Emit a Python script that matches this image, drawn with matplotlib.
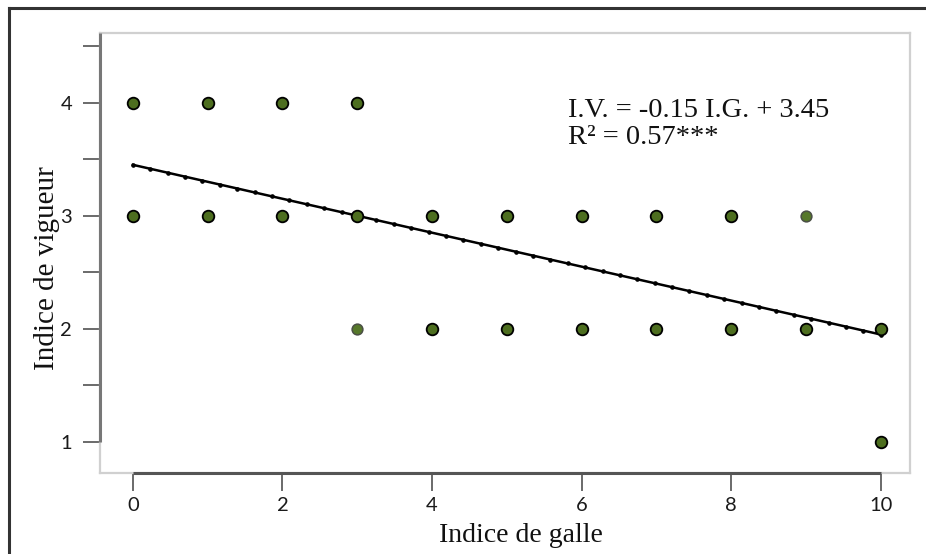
import numpy as np
import matplotlib.pyplot as plt
from matplotlib.lines import Line2D

# indice de galle / indice de vigueur
galle = [0, 1, 2, 3, 0, 1, 2, 3, 4, 5, 6, 7, 8, 4, 5, 6, 7, 8, 9, 10, 10]
vigueur = [4, 4, 4, 4, 3, 3, 3, 3, 3, 3, 3, 3, 3, 2, 2, 2, 2, 2, 2, 2, 1]
# points plus pales
galle_pale = [3, 9]
vigueur_pale = [2, 3]

pente = -0.15
origine = 3.45

serif = 'Liberation Serif'
plt.rcParams['font.family'] = serif

fig = plt.figure(figsize=(9.26, 5.54), dpi=100)
ax = fig.add_axes([0.108, 0.1462, 0.8747, 0.7942])

# droite de regression
xr = np.linspace(0, 10, 44)
ax.plot(xr, origine + pente * xr, color='black', lw=1.8, marker='o', ms=2.3, zorder=2)

ax.scatter(galle, vigueur, s=70, facecolor='#4d6e1f', edgecolor='black', linewidth=1.3, zorder=3)
ax.scatter(galle_pale, vigueur_pale, s=60, facecolor='#56782a', edgecolor='#4a4f45', linewidth=1.1, zorder=3)

ax.set_xlim(-0.44, 10.39)
ax.set_ylim(0.726, 4.615)
ax.set_xticks([0, 2, 4, 6, 8, 10])
ax.set_yticks([1, 2, 3, 4])
ax.set_yticks([1.5, 2.5, 3.5, 4.5], minor=True)
ax.tick_params(axis='both', which='both', direction='out', color='#6a6a6a', width=1.4,
               labelcolor='#1a1a1a', labelsize=14.5)
ax.tick_params(axis='x', length=13, pad=4)
ax.tick_params(axis='y', which='major', length=12, pad=8)
ax.tick_params(axis='y', which='minor', length=12)
for lab in ax.get_xticklabels() + ax.get_yticklabels():
    lab.set_family('Lato')

for s in ax.spines.values():
    s.set_color('#d0d0d0')
    s.set_linewidth(1.6)
# traits plus fonces sur l'etendue des donnees
ax.plot([0, 10], [0.726, 0.726], color='#555555', lw=2.2, clip_on=False, zorder=4,
        solid_capstyle='butt')
ax.plot([-0.44, -0.44], [1, 4.615], color='#777777', lw=2.2, clip_on=False, zorder=4,
        solid_capstyle='butt')

ax.set_xlabel('Indice de galle', fontsize=20, color='#111111')
ax.set_ylabel('Indice de vigueur', fontsize=21, color='#111111')
ax.xaxis.set_label_coords(0.52, -0.114)
ax.yaxis.set_label_coords(-0.049, 0.466)

ax.text(5.82, 3.87, 'I.V. = -0.15 I.G. + 3.45', fontsize=20.5, color='#111111', va='baseline')
ax.text(5.82, 3.63, 'R\u00b2 = 0.57***', fontsize=20.5, color='#111111', va='baseline')

# cadre exterieur
fig.add_artist(Line2D([9 / 926, 1], [1 - 8 / 554, 1 - 8 / 554], color='#333333', lw=2.2,
                      transform=fig.transFigure))
fig.add_artist(Line2D([9 / 926, 9 / 926], [0, 1 - 8 / 554], color='#333333', lw=2.2,
                      transform=fig.transFigure))

fig.savefig('out.png', dpi=100)
